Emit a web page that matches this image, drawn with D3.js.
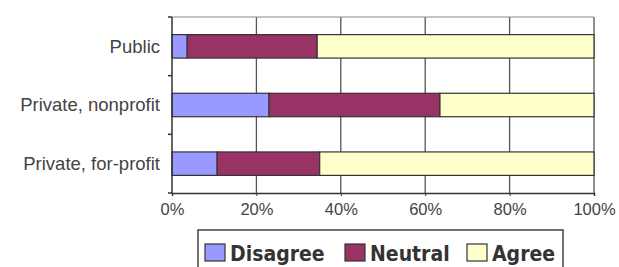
<!DOCTYPE html>
<html>
<head>
<meta charset="utf-8">
<script src="https://cdn.jsdelivr.net/npm/d3@7"></script>
<style>
  body { margin: 0; background: #fff; }
  svg { display: block; }
</style>
</head>
<body>
<svg id="chart" width="619" height="267"></svg>
<script>
// survey responses, percent of each sector
var categories = ["Public", "Private, nonprofit", "Private, for-profit"];
var seriesNames = ["Disagree", "Neutral", "Agree"];
var disagree = [3.6, 23, 10.7];
var neutral = [30.8, 40.5, 24.3];
var agree = [65.6, 36.5, 65];
var xTicks = [0, 20, 40, 60, 80, 100];
var colors = ["#9999ff", "#993366", "#ffffcc"];

var svg = d3.select("#chart");
var margin = {left: 172, right: 25, top: 17, bottom: 74};
var w = 619 - margin.left - margin.right;
var h = 267 - margin.top - margin.bottom;

var g = svg.append("g").attr("transform", "translate(" + margin.left + "," + margin.top + ")");

var x = d3.scaleLinear().domain([0, 100]).range([0, w]);
var y = d3.scaleBand().domain(categories).range([0, h]).paddingInner(0.6).paddingOuter(0.3);

// grid
g.selectAll(".grid").data(xTicks.slice(1)).enter().append("line")
    .attr("x1", function(d) { return x(d); })
    .attr("x2", function(d) { return x(d); })
    .attr("y1", 0).attr("y2", h)
    .style("stroke", "#555").style("stroke-width", 1.3);

g.append("line").attr("x1", 0).attr("x2", w).attr("y1", 0).attr("y2", 0)
    .style("stroke", "#888").style("stroke-width", 1);

// stacked rows
var rows = categories.map(function(c, i) {
    return {cat: c, Disagree: disagree[i], Neutral: neutral[i], Agree: agree[i]};
});
var stack = d3.stack().keys(seriesNames)(rows);

g.selectAll(".series").data(stack).enter().append("g")
    .style("fill", function(d, i) { return colors[i]; })
    .selectAll("rect").data(function(d) { return d; }).enter().append("rect")
    .attr("x", function(d) { return x(d[0]); })
    .attr("width", function(d) { return x(d[1]) - x(d[0]); })
    .attr("y", function(d) { return y(d.data.cat); })
    .attr("height", y.bandwidth())
    .style("stroke", "#333").style("stroke-width", 1.2);

// y axis with ticks between categories
g.append("line").attr("x1", 0).attr("x2", 0).attr("y1", 0).attr("y2", h)
    .style("stroke", "#333").style("stroke-width", 1.5);
g.selectAll(".ytick").data(d3.range(categories.length + 1)).enter().append("line")
    .attr("x1", -4).attr("x2", 0)
    .attr("y1", function(d) { return d * h / categories.length; })
    .attr("y2", function(d) { return d * h / categories.length; })
    .style("stroke", "#333").style("stroke-width", 1.5);
g.selectAll(".ylab").data(categories).enter().append("text")
    .attr("x", -12)
    .attr("y", function(d) { return y(d) + y.bandwidth() / 2; })
    .attr("dy", "0.35em")
    .attr("text-anchor", "end")
    .style("font-family", "Liberation Sans, Arial, sans-serif")
    .style("font-size", "18.5px")
    .style("fill", "#444")
    .text(function(d) { return d; });

// x axis
var xAxis = g.append("g").attr("transform", "translate(0," + h + ")")
    .call(d3.axisBottom(x).tickValues(xTicks).tickSize(3).tickPadding(7)
        .tickFormat(function(d) { return d + "%"; }));
xAxis.select(".domain").style("stroke", "#333").style("stroke-width", 1.5);
xAxis.selectAll("line").style("stroke", "#333");
xAxis.selectAll("text")
    .style("font-family", "Liberation Sans, Arial, sans-serif")
    .style("font-size", "16.5px")
    .style("fill", "#444");

// legend
var leg = svg.append("g").attr("transform", "translate(198,230)");
leg.append("rect").attr("x", 0).attr("y", 0).attr("width", 365).attr("height", 45)
    .style("fill", "#fff").style("stroke", "#444").style("stroke-width", 1.5);
var legX = [7, 147, 269];
seriesNames.forEach(function(s, i) {
    leg.append("rect").attr("x", legX[i]).attr("y", 14).attr("width", 20).attr("height", 17)
        .style("fill", colors[i]).style("stroke", "#333").style("stroke-width", 1.2);
    leg.append("text").attr("x", legX[i] + 25).attr("y", 31)
        .style("font-family", "DejaVu Sans Condensed, sans-serif")
        .style("font-weight", "bold")
        .style("font-size", "21px")
        .style("fill", "#333")
        .text(s);
});
</script>
</body>
</html>
